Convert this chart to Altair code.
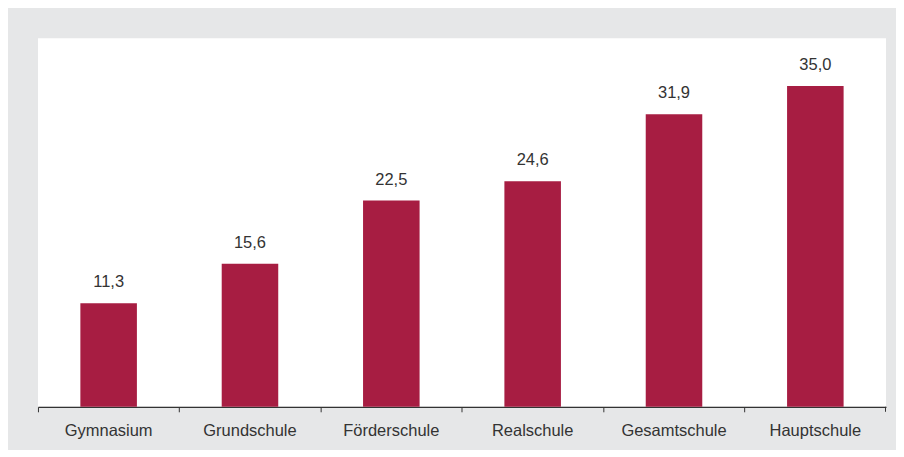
import altair as alt
import pandas as pd

schools = ["Gymnasium", "Grundschule", "Förderschule", "Realschule", "Gesamtschule", "Hauptschule"]
values = [11.3, 15.6, 22.5, 24.6, 31.9, 35.0]

df = pd.DataFrame({"schule": schools, "wert": values})

W, H = 849, 369
FONT = "Liberation Sans"

x = alt.X("schule:N", sort=schools, title=None,
          scale=alt.Scale(paddingInner=0, paddingOuter=0),
          axis=alt.Axis(bandPosition=0, labelAngle=0, labelFontSize=16.5, labelFont=FONT,
                        labelColor="#333333", labelPadding=11, tickSize=5, tickColor="#333333",
                        domainColor="#333333", tickWidth=1, domainWidth=1.2))
y = alt.Y("wert:Q", title=None, scale=alt.Scale(domain=[0, 40.2], nice=False), axis=None)

bars = alt.Chart(df).mark_bar(color="#a71d42", width=alt.RelativeBandSize(0.4)).encode(x=x, y=y)

labels = alt.Chart(df).transform_calculate(
    lbl="replace(format(datum.wert, '.1f'), '.', ',')"
).mark_text(dy=-21, fontSize=16.5, font=FONT, color="#333333").encode(
    x=alt.X("schule:N", sort=schools), y=y, text="lbl:N"
)

endtick = alt.Chart(df).mark_rule(color="#333333", strokeWidth=1).encode(
    x=alt.value(W - 0.5), y=alt.value(H), y2=alt.value(H + 5)
).transform_filter("datum.schule == 'Gymnasium'")

chart = alt.layer(bars, labels, endtick).properties(
    width=W, height=H,
    background="#e6e7e8",
    padding={"left": 29, "top": 30, "right": 10, "bottom": 10},
).configure_view(fill="white", stroke=None)

chart.save("out.html", embed_options={"renderer": "svg", "actions": False})
